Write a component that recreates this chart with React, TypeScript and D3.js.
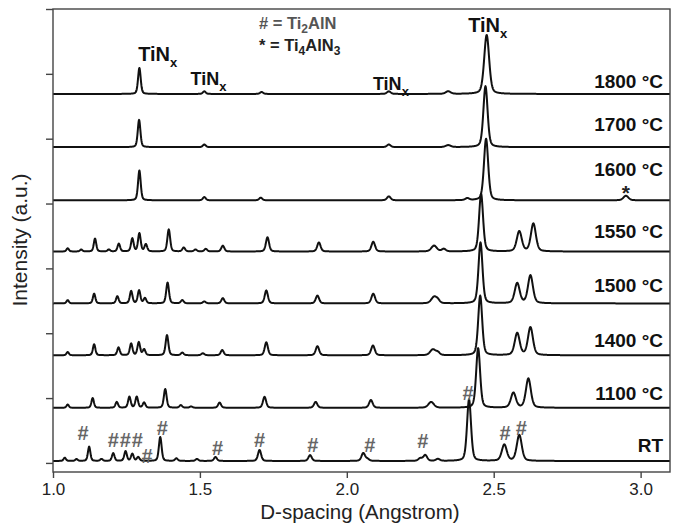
import { useEffect, useRef } from 'react'
import * as d3 from 'd3'

// Samples from bottom to top and their vertical offsets (a.u.)
const samples = ['RT', '1100', '1400', '1500', '1550', '1600', '1700', '1800']
const offsets = [3, 85, 166, 246, 326, 405, 487, 569]

// Peak lists: [d-spacing (A), height (a.u.), optional FWHM (A)]
const peaksRT = [
  [1.04, 5], [1.08, 3], [1.123, 22], [1.165, 3], [1.205, 12], [1.247, 15],
  [1.27, 11], [1.29, 6], [1.365, 37], [1.42, 4], [1.49, 3], [1.553, 6],
  [1.703, 17], [1.875, 9], [2.056, 12], [2.07, 3], [2.25, 4], [2.267, 9],
  [2.31, 3], [2.416, 95, 0.016], [2.536, 25, 0.02], [2.587, 40, 0.02],
]
const peaks1100 = [
  [1.05, 5], [1.135, 15], [1.217, 9], [1.26, 17], [1.285, 17], [1.31, 8],
  [1.382, 29], [1.435, 4], [1.47, 2], [1.567, 8], [1.72, 17], [1.894, 9],
  [2.082, 12], [2.287, 9, 0.022], [2.447, 92, 0.016], [2.567, 23, 0.02],
  [2.618, 45, 0.02],
]
const peaks1400 = [
  [1.05, 5], [1.14, 17], [1.223, 12], [1.266, 18], [1.292, 20], [1.31, 9],
  [1.388, 31], [1.44, 4], [1.51, 3], [1.576, 8], [1.726, 20], [1.9, 14],
  [2.089, 15], [2.293, 9, 0.022], [2.31, 4], [2.454, 92, 0.016],
  [2.58, 34, 0.02], [2.625, 43, 0.02],
]
const peaks1500 = [
  [1.05, 5], [1.14, 15], [1.219, 11], [1.266, 19], [1.293, 20], [1.313, 8],
  [1.39, 32], [1.44, 5], [1.515, 3], [1.578, 8], [1.726, 20], [1.9, 12],
  [2.09, 15], [2.297, 10, 0.022], [2.31, 4], [2.455, 94, 0.016],
  [2.58, 31, 0.02], [2.625, 43, 0.02],
]
const peaks1550 = [
  [1.05, 5], [1.096, 3], [1.143, 20], [1.19, 3], [1.224, 12], [1.27, 20],
  [1.294, 28], [1.316, 11], [1.394, 34], [1.445, 6], [1.485, 3], [1.52, 4],
  [1.578, 9], [1.73, 22], [1.905, 14], [2.09, 15], [2.297, 9, 0.022],
  [2.33, 4], [2.457, 89, 0.016], [2.587, 31, 0.02], [2.635, 43, 0.02],
]
const peaks1600 = [
  [1.294, 46], [1.515, 5], [1.707, 4], [2.143, 6], [2.41, 3],
  [2.474, 95, 0.017], [2.95, 7, 0.02],
]
const peaks1700 = [
  [1.293, 42], [1.515, 4], [2.143, 4], [2.345, 3, 0.02], [2.472, 94, 0.017],
]
const peaks1800 = [
  [1.294, 40], [1.515, 4], [1.71, 3], [2.143, 4], [2.345, 4, 0.02],
  [2.476, 91, 0.02],
]
const peakLists = [
  peaksRT, peaks1100, peaks1400, peaks1500,
  peaks1550, peaks1600, peaks1700, peaks1800,
]

// Ti2AlN markers on the RT pattern: [d, level]
const hashMarks = [
  [1.102, 35], [1.205, 25], [1.246, 25], [1.287, 25], [1.32, 0],
  [1.372, 43], [1.56, 12], [1.703, 25], [1.884, 17], [2.078, 17],
  [2.259, 23], [2.413, 97], [2.539, 35], [2.594, 43],
]
// Ti4AlN3 marker on the 1600 pattern
const starMarks = [[2.95, 405]]
// TiNx labels: [d, level]
const tinLabels = [[1.29, 620], [1.468, 583], [2.089, 575], [2.413, 665]]

const xTicks = [1.0, 1.5, 2.0, 2.5, 3.0]
const yTicks = [0, 100, 200, 300, 400, 500, 600, 700]

// label lift above each baseline (px)
const labelLift = [9, 8, 8, 11, 14, 24, 16, 6]

const W = 675
const H = 526
const margin = { left: 53, right: 5, top: 9, bottom: 54 }
const FONT = 'Liberation Sans, Arial, Helvetica, sans-serif'

function profile(peaks, offset) {
  const pts = []
  for (let x = 1.0; x <= 3.1001; x += 0.001) {
    let y = 0
    peaks.forEach((p) => {
      const w = p[2] || 0.0045 + 0.0048 * p[0]
      const t = (x - p[0]) / w
      const g = Math.exp(-4 * Math.LN2 * t * t)
      const l = 1 / (1 + 4 * t * t)
      y += p[1] * (0.65 * g + 0.35 * l)
    })
    pts.push([x, y + offset])
  }
  return pts
}

const App = () => {
  const svgRef = useRef(null)

  useEffect(() => {
    const x = d3.scaleLinear().domain([1.0, 3.1]).range([margin.left, W - margin.right])
    const y = d3.scaleLinear().domain([-14, 700]).range([H - margin.bottom, margin.top])

    const svg = d3.select(svgRef.current)
    svg.selectAll('*').remove()

    svg
      .append('defs')
      .append('clipPath')
      .attr('id', 'plot-clip')
      .append('rect')
      .attr('x', margin.left)
      .attr('y', margin.top)
      .attr('width', W - margin.left - margin.right)
      .attr('height', H - margin.top - margin.bottom)

    // Traces
    const line = d3
      .line()
      .x((d) => x(d[0]))
      .y((d) => y(d[1]))
    const traces = svg.append('g').attr('clip-path', 'url(#plot-clip)')
    peakLists.forEach((peaks, i) => {
      traces
        .append('path')
        .attr('d', line(profile(peaks, offsets[i])))
        .attr('fill', 'none')
        .attr('stroke', '#111')
        .attr('stroke-width', 2)
        .attr('stroke-linejoin', 'round')
    })

    // Frame
    svg
      .append('rect')
      .attr('x', margin.left)
      .attr('y', margin.top)
      .attr('width', W - margin.left - margin.right)
      .attr('height', H - margin.top - margin.bottom)
      .attr('fill', 'none')
      .attr('stroke', '#444')
      .attr('stroke-width', 1.4)

    // X axis
    const xAxis = svg
      .append('g')
      .attr('transform', `translate(0,${H - margin.bottom})`)
      .call(d3.axisBottom(x).tickValues(xTicks).tickFormat(d3.format('.1f')).tickSize(6).tickPadding(5))
    xAxis.select('.domain').remove()
    xAxis.selectAll('line').attr('stroke', '#444').attr('stroke-width', 1.4)
    xAxis
      .selectAll('text')
      .attr('fill', '#222')
      .style('font-family', FONT)
      .style('font-size', '17px')

    // Y axis (ticks only)
    const yAxis = svg
      .append('g')
      .attr('transform', `translate(${margin.left},0)`)
      .call(d3.axisLeft(y).tickValues(yTicks).tickFormat(() => '').tickSize(7))
    yAxis.select('.domain').remove()
    yAxis.selectAll('line').attr('stroke', '#444').attr('stroke-width', 1.4)

    // Axis titles
    svg
      .append('text')
      .attr('x', 360)
      .attr('y', 519)
      .attr('text-anchor', 'middle')
      .style('font-family', FONT)
      .style('font-size', '20.5px')
      .attr('fill', '#222')
      .text('D-spacing (Angstrom)')
    svg
      .append('text')
      .attr('transform', 'translate(27,240) rotate(-90)')
      .attr('text-anchor', 'middle')
      .style('font-family', FONT)
      .style('font-size', '21px')
      .attr('fill', '#222')
      .text('Intensity (a.u.)')

    // Temperature labels
    samples.forEach((s, i) => {
      svg
        .append('text')
        .attr('x', 663)
        .attr('y', y(offsets[i]) - labelLift[i])
        .attr('text-anchor', 'end')
        .style('font-family', FONT)
        .style('font-size', '19px')
        .style('font-weight', 'bold')
        .attr('fill', '#111')
        .text(s === 'RT' ? 'RT' : `${s} °C`)
    })

    // TiNx labels
    tinLabels.forEach((t, i) => {
      const txt = svg
        .append('text')
        .attr('x', x(t[0]))
        .attr('y', y(t[1]))
        .style('font-family', FONT)
        .style('font-size', i === 0 || i === 3 ? '20px' : '18px')
        .style('font-weight', 'bold')
        .attr('fill', '#111')
      txt.append('tspan').text('TiN')
      txt.append('tspan').attr('dy', 6).style('font-size', '13px').text('x')
    })

    // Phase markers
    svg
      .selectAll('.hash')
      .data(hashMarks)
      .enter()
      .append('text')
      .attr('x', (d) => x(d[0]))
      .attr('y', (d) => y(d[1]))
      .attr('text-anchor', 'middle')
      .style('font-family', FONT)
      .style('font-size', '20px')
      .style('font-weight', 'bold')
      .attr('fill', '#666')
      .text('#')
    svg
      .selectAll('.star')
      .data(starMarks)
      .enter()
      .append('text')
      .attr('x', (d) => x(d[0]))
      .attr('y', (d) => y(d[1]))
      .attr('text-anchor', 'middle')
      .style('font-family', FONT)
      .style('font-size', '21px')
      .style('font-weight', 'bold')
      .attr('fill', '#222')
      .text('*')

    // Legend
    const leg1 = svg
      .append('text')
      .attr('x', 259)
      .attr('y', 29)
      .style('font-family', FONT)
      .style('font-size', '16.5px')
      .style('font-weight', 'bold')
      .attr('fill', '#555')
    leg1.append('tspan').text('# = Ti')
    leg1.append('tspan').attr('dy', 4).style('font-size', '12px').text('2')
    leg1.append('tspan').attr('dy', -4).text('AlN')
    const leg2 = svg
      .append('text')
      .attr('x', 259)
      .attr('y', 51)
      .style('font-family', FONT)
      .style('font-size', '16.5px')
      .style('font-weight', 'bold')
      .attr('fill', '#222')
    leg2.append('tspan').text('* = Ti')
    leg2.append('tspan').attr('dy', 4).style('font-size', '12px').text('4')
    leg2.append('tspan').attr('dy', -4).text('AlN')
    leg2.append('tspan').attr('dy', 4).style('font-size', '12px').text('3')
  }, [])

  return (
    <svg
      ref={svgRef}
      width={W}
      height={H}
      style={{ position: 'absolute', left: 0, top: 0, background: '#fff' }}
    />
  )
}

export default App
